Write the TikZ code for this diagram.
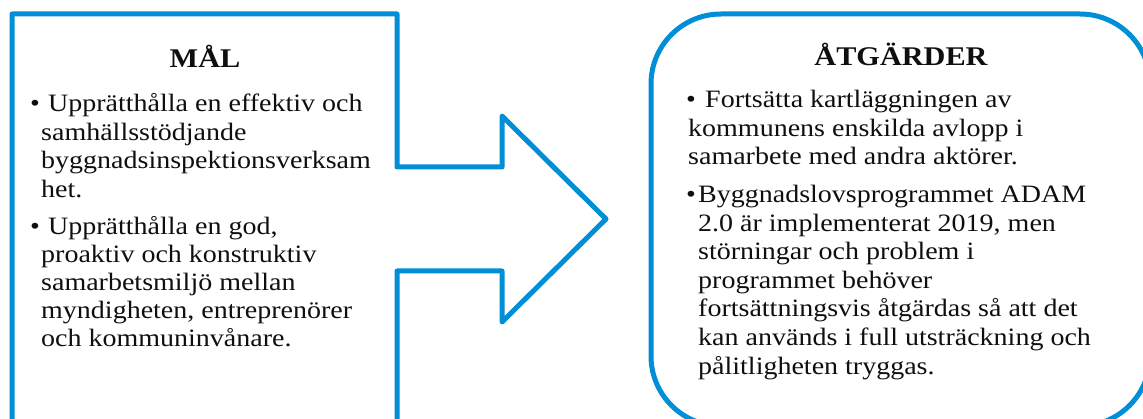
\documentclass[tikz,border=0pt]{standalone}
\usepackage{fontspec}
\setmainfont[FakeStretch=1.12]{Liberation Serif}
\definecolor{frameblue}{RGB}{0,142,214}
\definecolor{inkc}{RGB}{15,15,15}
\begin{document}
\begin{tikzpicture}[x=1pt,y=-1pt,
  frame/.style={draw=frameblue, line width=5pt, line join=round},
  txt/.style={anchor=base west, inner sep=0pt, text=inkc, font=\fontsize{25}{30}\selectfont},
  head/.style={anchor=base, inner sep=0pt, text=inkc, font=\bfseries\fontsize{27}{32}\selectfont}]
\useasboundingbox (0,0) rectangle (1143,419);
\begin{scope}
\clip (0,0) rectangle (1143,419);
% left box merged with the arrow
\draw[frame] (12,445) -- (12,14) -- (397,14) -- (397,167) -- (502,167) -- (502,116)
  -- (606,219) -- (502,322) -- (502,271) -- (397,271) -- (397,445);
% right rounded box
\draw[frame, rounded corners=70pt] (651,14) rectangle (1150,426);
\end{scope}
% headings
\node[head] (malH) at (205,67.5) {MÅL};
\node[head] (atgH) at (901,65.7) {ÅTGÄRDER};
% left texts
\node[txt] (lb1) at (30,112) {•};
\node[txt] (l1) at (48,112) {Upprätthålla en effektiv och};
\node[txt] (l2) at (41,140.5) {samhällsstödjande};
\node[txt] (l3) at (41,169) {byggnadsinspektionsverksam};
\node[txt] (l4) at (41,197.5) {het.};
\node[txt] (lb2) at (30,234.5) {•};
\node[txt] (l5) at (48,234.5) {Upprätthålla en god,};
\node[txt] (l6) at (41,262.5) {proaktiv och konstruktiv};
\node[txt] (l7) at (41,290.5) {samarbetsmiljö mellan};
\node[txt] (l8) at (41,318.5) {myndigheten, entreprenörer};
\node[txt] (l9) at (41,347) {och kommuninvånare.};
% right texts
\node[txt] (rb1) at (686,108) {•};
\node[txt] (r1) at (705,108) {Fortsätta kartläggningen av};
\node[txt] (r2) at (688,136.5) {kommunens enskilda avlopp i};
\node[txt] (r3) at (688,165) {samarbete med andra aktörer.};
\node[txt] (rb2) at (686,203) {•};
\node[txt] (r4) at (698,203) {Byggnadslovsprogrammet ADAM};
\node[txt] (r5) at (698,231.5) {2.0 är implementerat 2019, men};
\node[txt] (r6) at (698,260) {störningar och problem i};
\node[txt] (r7) at (698,288.5) {programmet behöver};
\node[txt] (r8) at (698,317) {fortsättningsvis åtgärdas så att det};
\node[txt] (r9) at (698,345.5) {kan används i full utsträckning och};
\node[txt] (r10) at (698,374) {pålitligheten tryggas.};
\end{tikzpicture}
\end{document}
